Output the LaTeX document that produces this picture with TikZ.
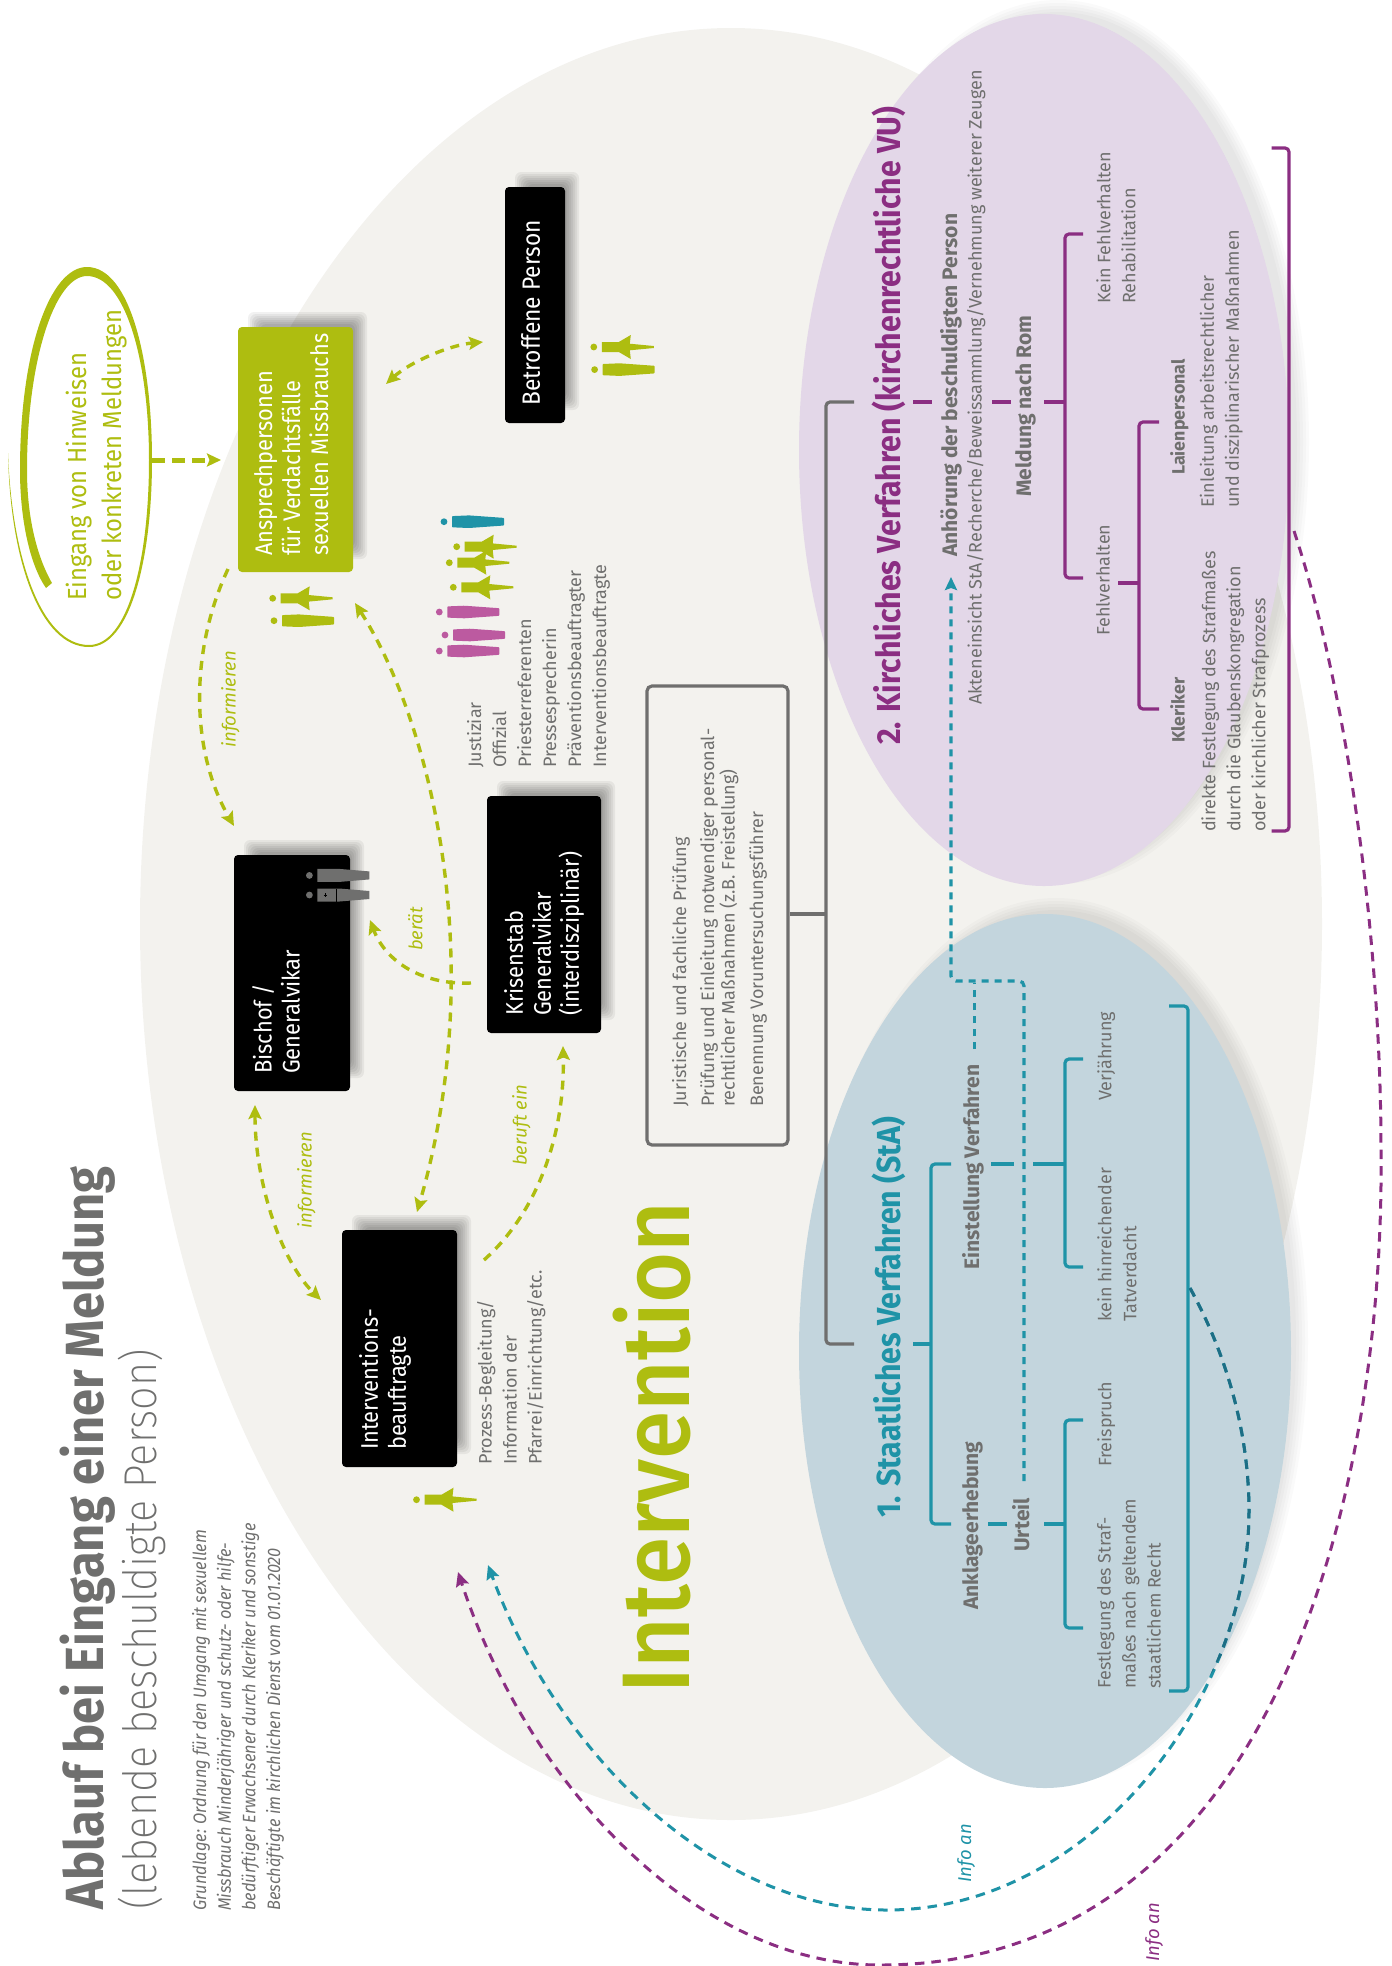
\documentclass[tikz,border=0pt]{standalone}
\usepackage{fontspec}
\usetikzlibrary{arrows.meta,calc}
\setmainfont{Fira Sans}
\newfontfamily\narrowf[FakeStretch=0.91]{Fira Sans}
\newfontfamily\medf[FakeStretch=0.912]{Fira Sans Medium}
\newfontfamily\lightf[FakeStretch=0.9]{Fira Sans ExtraLight}
\definecolor{bgell}{HTML}{F3F2EE}
\definecolor{purpell}{HTML}{E3D7E8}
\definecolor{blueell}{HTML}{C3D5DD}
\definecolor{grn}{HTML}{AEBD10}
\definecolor{tealc}{HTML}{1F93A7}
\definecolor{tealdk}{HTML}{1D6E85}
\definecolor{purp}{HTML}{8B2E82}
\definecolor{magen}{HTML}{BC5AA0}
\definecolor{tgray}{HTML}{6F6F6E}
\tikzset{
  rt/.style={rotate=90,anchor=north west,inner sep=0pt,align=left},
  grayt/.style={rt,text=tgray,font=\fontsize{18}{25}\selectfont},
  boldt/.style={rt,text=tgray,font=\fontsize{21}{25}\selectfont\bfseries},
  boldsm/.style={rt,text=tgray,font=\fontsize{17.8}{25}\selectfont\bfseries},
  headt/.style={rt,font=\narrowf\fontsize{33.3}{36}\selectfont\bfseries},
  boxt/.style={rt,text=white,font=\narrowf\fontsize{24}{28}\selectfont},
  lab/.style={rt,text=grn,font=\fontsize{18.5}{22}\selectfont\itshape},
  blackbox/.style={fill=black,rounded corners=4pt,inner sep=0pt,minimum width=115pt,minimum height=237pt},
  grnarrow/.style={draw=grn,line width=3.4pt,dash pattern=on 9pt off 7pt,-{Stealth[length=14pt,width=13pt,inset=2.5pt]}},
  grnboth/.style={grnarrow,{Stealth[length=14pt,width=13pt,inset=2.5pt]}-{Stealth[length=14pt,width=13pt,inset=2.5pt]}},
  treep/.style={line width=3.2pt,rounded corners=4pt},
  infoline/.style={line width=3pt,dash pattern=on 9.5pt off 7pt},
}
\newcommand\softrect[4]{\foreach \i in {-6,-4,...,6}{\fill[black,opacity=.055,rounded corners=6pt] ({#1+16-(\i)},{#2-9-(\i)}) rectangle ({#3+8+(\i)},{#4-19+(\i)});}}
\newcommand\softell[4]{\foreach \i in {-6,-3,...,6}{\fill[black,opacity=.018] (#1,#2) ellipse[x radius={#3+(\i)},y radius={#4+(\i)}];}}
\newcommand\robeicon[3]{\begin{scope}[shift={(#1,#2)}]\fill[#3] (0,0) circle[radius=3.4];\fill[#3,rounded corners=.8pt] (8,-5.6)--(25,-6.3)--(60,-3.8)--(60,3.8)--(25,6.3)--(8,5.6)--cycle;\end{scope}}
\newcommand\manicon[3]{\begin{scope}[shift={(#1,#2)}]\fill[#3] (0,0) circle[radius=3.4];\fill[#3] (8,-5)--(25,-5)--(37,-12)--(36,-3.3)--(60,-1)--(60,1)--(36,3.3)--(37,12)--(25,5)--(8,5)--cycle;\end{scope}}
\newcommand\tealinfo{(i1) .. controls (1235,1370) and (1249,1450) .. (1249,1511) .. controls (1249,1700) and (1090,1910) .. (887,1910) .. controls (720,1910) and (560,1760) .. (i2)}
\begin{document}
\begin{tikzpicture}[x=1pt,y=-1pt]
\useasboundingbox (0,0) rectangle (1392,1966);
% large background ellipse
\fill[bgell] (731,924) ellipse[x radius=591,y radius=896];
% purple + blue ellipses
\softell{1058}{442}{245}{436}
\softell{1056}{1341}{246}{437}
\fill[purpell] (1044,450) ellipse[x radius=245,y radius=436];
\fill[blueell] (1045,1351) ellipse[x radius=246,y radius=437];
% hand-drawn ring
\fill[grn] (8,453) .. controls (10,560) and (40,647) .. (89,647) .. controls (130,647) and (152,560) .. (152,460) .. controls (152,360) and (130,267) .. (87,267) .. controls (50,267) and (20,350) .. (20,470) .. controls (20,520) and (30,565) .. (46,588) -- (52,583) .. controls (36,555) and (27,515) .. (27,470) .. controls (27,360) and (55,276) .. (87,276) .. controls (125,276) and (149,360) .. (149,460) .. controls (149,560) and (128,645) .. (89,645) .. controls (42,645) and (12,560) .. (8,453) -- cycle;
\node[rt,text=grn,font=\narrowf\fontsize{26.2}{35}\selectfont] (eingang) at (66,601) {Eingang von Hinweisen\\oder konkreten Meldungen};
% boxes
\softrect{238}{327}{353}{572}
\softrect{505}{187}{565}{423}
\softrect{234}{855}{350}{1091}
\softrect{487}{796}{601}{1033}
\softrect{342}{1230}{457}{1467}
\node[fill=grn,rounded corners=4pt,inner sep=0pt,minimum width=115pt,minimum height=245pt] (ansp) at (295.5,449.5) {};
\node[blackbox,minimum width=60pt,minimum height=236pt] (betr) at (535,305) {};
\node[blackbox,minimum width=116pt,minimum height=236pt] (bisch) at (292,973) {};
\node[blackbox,minimum width=114pt,minimum height=237pt] (kris) at (544,914.5) {};
\node[blackbox] (interv) at (399.5,1348.5) {};
\node[boxt] (anspt) at (254,556) {Ansprechpersonen\\für Verdachtsfälle\\sexuellen Missbrauchs};
\node[boxt,font=\narrowf\fontsize{25}{28}\selectfont] (betrt) at (521,406) {Betroffene Person};
\node[boxt] (bischt) at (252,1074) {Bischof /\\Generalvikar};
\node[boxt] (krist) at (504,1016) {Krisenstab\\Generalvikar\\(interdisziplinär)};
\node[boxt] (intervt) at (359,1450) {Interventions-\\beauftragte};
% icons
\manicon{272.7}{598.3}{grn}\robeicon{274}{620.7}{grn}
\manicon{593.8}{347}{grn}\robeicon{594.6}{369.6}{grn}
\robeicon{444}{521.7}{tealc}
\manicon{456.7}{546.7}{grn}\manicon{449.3}{562.7}{grn}\manicon{453.3}{587.3}{grn}
\robeicon{439.3}{612}{magen}\robeicon{445}{635}{magen}\robeicon{439.3}{651}{magen}
\manicon{416.5}{1499.7}{grn}
\begin{scope}[shift={(309.4,875.4)}]\fill[tgray] (0,0) circle[radius=3.4];\fill[tgray] (8,-6.5)--(30,-6.5)--(60,-4)--(60,4)--(30,6.5)--(8,6.5)--cycle;\end{scope}
\begin{scope}[shift={(309.4,895)}]\fill[tgray] (0,0) circle[radius=3.4];\fill[tgray] (8,-6.5)--(30,-6.5)--(60,-4)--(60,4)--(30,6.5)--(8,6.5)--cycle;\draw[black,line width=.6pt] (16,-2)--(16,2) (14.5,0)--(18,0) (27,-6.5)--(27,6.5);\end{scope}
% titles
\node[rt,text=tgray,font=\narrowf\fontsize{53.7}{60}\selectfont\bfseries] (title) at (60,1910) {Ablauf bei Eingang einer Meldung};
\node[rt,text=tgray,font=\lightf\fontsize{46}{50}\selectfont] (subtitle) at (118,1910) {(lebende beschuldigte Person)};
\node[rt,text=tgray,font=\narrowf\fontsize{18}{24.6}\selectfont\itshape] (grundl) at (192,1911) {Grundlage: Ordnung für den Umgang mit sexuellem\\Missbrauch Minderjähriger und schutz- oder hilfe-\\bedürftiger Erwachsener durch Kleriker und sonstige\\Beschäftigte im kirchlichen Dienst vom 01.01.2020};
\node[rt,text=grn,font=\medf\fontsize{96}{100}\selectfont] (interventionw) at (613,1694) {Intervention};
% gray texts
\node[grayt] (prozess) at (477,1465) {Prozess-Begleitung/\\Information der\\Pfarrei/Einrichtung/etc.};
\node[grayt] (liste) at (467,768) {Justiziar\\Offizial\\Priesterreferenten\\Pressesprecherin\\Präventionsbeauftragter\\Interventionsbeauftragte};
% Prüfung box
\node[draw=tgray,line width=3.2pt,rounded corners=5pt,inner sep=0pt,minimum width=141pt,minimum height=459pt] (pruef) at (717.5,915.5) {};
\node[grayt] (p1) at (672,1107) {Juristische und fachliche Prüfung};
\node[grayt,font=\fontsize{18}{20.5}\selectfont] (p2) at (700,1107) {Prüfung und Einleitung notwendiger personal-\\rechtlicher Maßnahmen (z.B. Freistellung)};
\node[grayt] (p3) at (749,1107) {Benennung Voruntersuchungsführer};
% gray connector
\coordinate (gA) at (854,402); \coordinate (gB) at (826,402); \coordinate (gC) at (826,1344); \coordinate (gD) at (854,1344); \coordinate (gM) at (826,914);
\draw[treep,tgray] (gA)--(gB)--(gC)--(gD);
\draw[line width=3.2pt,tgray] (pruef.east|-gM)--(gM);
% headings
\node[headt,text=purp] (h2) at (872,745) {2. Kirchliches Verfahren (kirchenrechtliche VU)};
\node[headt,text=tealc] (h1) at (872,1518) {1. Staatliches Verfahren (StA)};
% teal tree
\begin{scope}[treep,tealc]
\coordinate (t1) at (913,1344); \coordinate (t2) at (931,1344);
\draw (t1)--(t2);
\coordinate (t3) at (951,1164); \coordinate (t4) at (931,1164); \coordinate (t5) at (931,1524); \coordinate (t6) at (951,1524);
\draw (t3)--(t4)--(t5)--(t6);
\coordinate (t7) at (991,1164); \coordinate (t8) at (1014,1164); \draw (t7)--(t8);
\coordinate (t9) at (1033,1164); \coordinate (t10) at (1065,1164); \draw (t9)--(t10);
\coordinate (t11) at (1083,1059); \coordinate (t12) at (1065,1059); \coordinate (t13) at (1065,1267); \coordinate (t14) at (1083,1267);
\draw (t11)--(t12)--(t13)--(t14);
\coordinate (t15) at (988,1524); \coordinate (t16) at (1007,1524); \draw (t15)--(t16);
\coordinate (t17) at (1044,1524); \coordinate (t18) at (1065,1524); \draw (t17)--(t18);
\coordinate (t19) at (1083,1420); \coordinate (t20) at (1065,1420); \coordinate (t21) at (1065,1628); \coordinate (t22) at (1083,1628);
\draw (t19)--(t20)--(t21)--(t22);
\coordinate (t23) at (1169,1006); \coordinate (t24) at (1188,1006); \coordinate (t25) at (1188,1691); \coordinate (t26) at (1169,1691);
\draw (t23)--(t24)--(t25)--(t26);
\end{scope}
% teal dashed
\coordinate (d1) at (1024,1481); \coordinate (d2) at (1024,981); \coordinate (d3) at (951,981); \coordinate (d4) at (951,577);
\draw[tealc,line width=3.2pt,dash pattern=on 7pt off 6pt,rounded corners=5pt,-{Stealth[length=13pt,width=12pt,inset=2pt]}] (d1)--(d2)--(d3)--(d4);
\coordinate (d5) at (974.5,1049); \coordinate (d6) at (974.5,983);
\draw[tealc,line width=3.2pt,dash pattern=on 7pt off 6pt] (d5)--(d6);
% purple tree
\begin{scope}[treep,purp]
\coordinate (u1) at (913,402); \coordinate (u2) at (932,402); \draw (u1)--(u2);
\coordinate (u3) at (992,402); \coordinate (u4) at (1011,402); \draw (u3)--(u4);
\coordinate (u5) at (1044,402); \coordinate (u6) at (1065,402); \draw (u5)--(u6);
\coordinate (u7) at (1083,234); \coordinate (u8) at (1065,234); \coordinate (u9) at (1065,578); \coordinate (u10) at (1083,578);
\draw (u7)--(u8)--(u9)--(u10);
\coordinate (u11) at (1118,583); \coordinate (u12) at (1139,583); \draw (u11)--(u12);
\coordinate (u13) at (1159,422); \coordinate (u14) at (1139,422); \coordinate (u15) at (1139,709); \coordinate (u16) at (1159,709);
\draw (u13)--(u14)--(u15)--(u16);
\coordinate (u17) at (1271.5,148); \coordinate (u18) at (1289,148); \coordinate (u19) at (1289,831); \coordinate (u20) at (1271.5,831);
\draw (u17)--(u18)--(u19)--(u20);
\end{scope}
% tree texts
\node[boldt] (einst) at (962,1270) {Einstellung Verfahren};
\node[boldt] (ankl) at (962,1610) {Anklageerhebung};
\node[boldt] (urteil) at (1012,1552) {Urteil};
\node[grayt] (kein) at (1097,1322) {kein hinreichender\\Tatverdacht};
\node[grayt] (verj) at (1097,1101) {Verjährung};
\node[grayt] (frei) at (1097,1467) {Freispruch};
\node[grayt] (festl) at (1097,1689) {Festlegung des Straf-\\maßes nach geltendem\\staatlichem Recht};
\node[boldt] (anh) at (940,557) {Anhörung der beschuldigten Person};
\node[grayt] (akten) at (967,705) {Akteneinsicht StA/Recherche/Beweissammlung/Vernehmung weiterer Zeugen};
\node[boldt] (meld) at (1015,497) {Meldung nach Rom};
\node[grayt] (keinf) at (1096,304) {Kein Fehlverhalten\\Rehabilitation};
\node[grayt] (fehl) at (1096,636) {Fehlverhalten};
\node[boldsm] (laien) at (1170,475) {Laienpersonal};
\node[grayt] (einl) at (1199.5,508) {Einleitung arbeitsrechtlicher\\und disziplinarischer Maßnahmen};
\node[boldsm] (kler) at (1170,743) {Kleriker};
\node[grayt] (dir) at (1201,832) {direkte Festlegung des Strafmaßes\\durch die Glaubenskongregation\\oder kirchlicher Strafprozess};
% green arrows
\coordinate (a1) at (152,460); \coordinate (a2) at (221,460);
\draw[grnarrow,line width=5pt,dash pattern=on 13pt off 7pt] (a1)--(a2);
\coordinate (b1) at (386,384); \coordinate (b2) at (483,342);
\draw[grnboth] (b1) .. controls (410,362) and (450,345) .. (b2);
\coordinate (c1) at (228,569); \coordinate (c2) at (234,826);
\draw[grnarrow] (c1) .. controls (190,650) and (190,750) .. (c2);
\coordinate (e1) at (355,603); \coordinate (e2) at (417,1212);
\draw[grnboth] (e1) .. controls (430,720) and (490,960) .. (e2);
\coordinate (f1) at (471,983); \coordinate (f2) at (370,920);
\draw[grnarrow] (f1) .. controls (420,985) and (385,960) .. (f2);
\coordinate (g1) at (255,1105); \coordinate (g2) at (321,1300);
\draw[grnboth] (g1) .. controls (255,1180) and (280,1260) .. (g2);
\coordinate (h1c) at (484,1260); \coordinate (h2c) at (563,1046);
\draw[grnarrow] (h1c) .. controls (540,1210) and (565,1130) .. (h2c);
% labels
\node[lab] (l1) at (221,748) {informieren};
\node[lab] (l2) at (297,1229) {informieren};
\node[lab] (l3) at (408,951) {berät};
\node[lab] (l4) at (512,1166) {beruft ein};
\node[lab,text=tealc] (l5) at (957,1883) {Info an};
\node[lab,text=purp] (l6) at (1145,1962) {Info an};
% info curves
\coordinate (i1) at (1190,1288); \coordinate (i2) at (488,1565);
\draw[tealc,infoline,-{Stealth[length=14pt,width=13pt,inset=2pt]}] \tealinfo;
\begin{scope}
\clip (1045,1351) ellipse[x radius=246,y radius=437];
\draw[tealdk,infoline] \tealinfo;
\end{scope}
\coordinate (j1) at (1294,531); \coordinate (j2) at (458,1572);
\draw[purp,infoline,-{Stealth[length=14pt,width=13pt,inset=2pt]}] (j1) .. controls (1350,700) and (1381,950) .. (1381,1150) .. controls (1385,1500) and (1270,1965) .. (880,1965) .. controls (700,1965) and (530,1790) .. (j2);
\end{tikzpicture}
\end{document}
